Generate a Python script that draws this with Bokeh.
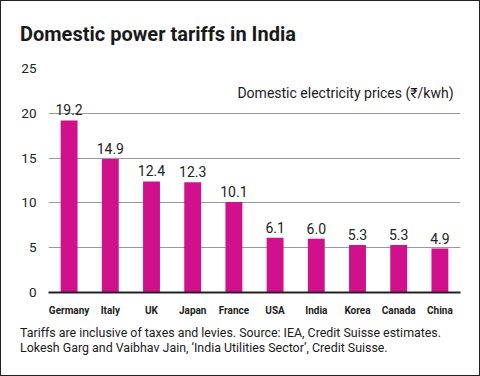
from bokeh.plotting import figure
from bokeh.layouts import column
from bokeh.models import ColumnDataSource, LabelSet, Label, FixedTicker, Range1d, Div
from bokeh.core.properties import value
from bokeh.embed import file_html
from bokeh.resources import INLINE

countries = ["Germany", "Italy", "UK", "Japan", "France", "USA", "India", "Korea", "Canada", "China"]
prices = [19.2, 14.9, 12.4, 12.3, 10.1, 6.1, 6.0, 5.3, 5.3, 4.9]
price_labels = ["19.2", "14.9", "12.4", "12.3", "10.1", "6.1", "6.0", "5.3", "5.3", "4.9"]
y_ticks = [0, 5, 10, 15, 20, 25]

title_text = "Domestic power tariffs in India"
subtitle_text = "Domestic electricity prices (\u20b9/kwh)"
note1 = "Tariffs are inclusive of taxes and levies. Source: IEA, Credit Suisse estimates."
note2 = "Lokesh Garg and Vaibhav Jain, \u2018India Utilities Sector\u2019, Credit Suisse."

W = 478
H_TOP, H_MAIN, H_BOT = 60, 260, 54

top = Div(width=W, height=H_TOP, margin=0,
          text=('<div style="padding:24px 0 0 19px; margin:0; font-family:Roboto; font-weight:bold; '
                'font-size:20px; line-height:19px; color:#1a1a1a; white-space:nowrap">'
                + title_text + '</div>'))

# main chart
src = ColumnDataSource(dict(c=countries, v=prices, t=price_labels))
p = figure(x_range=countries, y_range=Range1d(0, 25), width=W, height=H_MAIN,
           output_backend="svg", toolbar_location=None,
           min_border_left=47, min_border_right=19, min_border_top=7, min_border_bottom=29)
p.outline_line_color = None
p.background_fill_color = "white"
p.border_fill_color = "white"

p.vbar(x="c", top="v", width=0.41, source=src, fill_color="#D0118B", line_color=None)

p.add_layout(LabelSet(x="c", y="v", text="t", source=src, text_align="center",
                      y_offset=5, text_font_size=value("14px"), text_color=value("#222"),
                      text_font=value("Roboto")))

p.xgrid.grid_line_color = None
p.ygrid.grid_line_color = "#9a9a9a"
p.ygrid.grid_line_width = 1.2
p.ygrid.ticker = FixedTicker(ticks=y_ticks[1:])

p.yaxis.ticker = FixedTicker(ticks=y_ticks)
p.yaxis.axis_line_color = None
p.yaxis.major_tick_line_color = None
p.yaxis.minor_tick_line_color = None
p.yaxis.major_label_standoff = 6
p.yaxis.major_label_text_font = "Roboto"
p.yaxis.major_label_text_font_size = "13.5px"
p.yaxis.major_label_text_color = "#222"

p.xaxis.axis_line_color = "#222"
p.xaxis.axis_line_width = 2
p.xaxis.major_tick_line_color = None
p.xaxis.minor_tick_line_color = None
p.xaxis.major_label_standoff = 6
p.xaxis.major_label_text_font = "Roboto"
p.xaxis.major_label_text_font_style = "bold"
p.xaxis.major_label_text_font_size = "10px"
p.xaxis.major_label_text_color = "#222"

# screen units are relative to the frame's bottom-left corner, y upward
p.add_layout(Label(x=452 - 47, y=292 - 92, x_units="screen", y_units="screen", text=subtitle_text,
                   text_font="Roboto", text_font_size="14px", text_align="right",
                   text_color="#1a1a1a", text_baseline="alphabetic"))

bot = Div(width=W, height=H_BOT, margin=0,
          text=('<div style="padding:4px 0 0 19px; margin:0; font-family:Roboto; font-size:12.4px; '
                'line-height:15px; color:#1a1a1a; white-space:nowrap">'
                + note1 + '<br>' + note2 + '</div>'))

layout = column(top, p, bot, spacing=0)
layout.styles = {"border": "1px solid #222"}

open("out.html", "w").write(file_html(layout, INLINE))
